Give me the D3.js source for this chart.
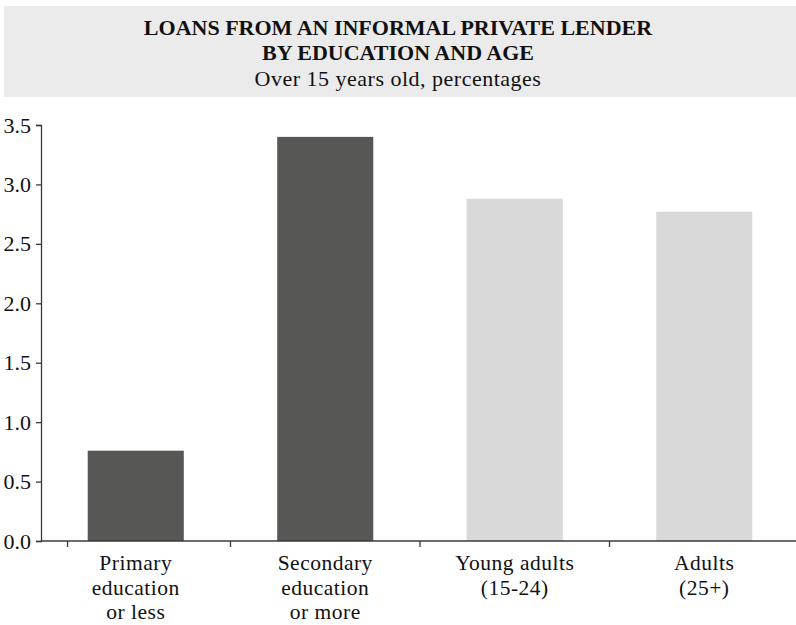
<!DOCTYPE html>
<html>
<head>
<meta charset="utf-8">
<script src="https://cdn.jsdelivr.net/npm/d3@7"></script>
<style>
  html, body { margin: 0; padding: 0; background: #fff; }
  svg { display: block; font-family: "Liberation Serif", "Times New Roman", serif; }
</style>
</head>
<body>
<svg id="chart" width="796" height="625"></svg>
<script>
// Loans from an informal private lender, by education and age (% of people over 15)
const categories = [
  ["Primary", "education", "or less"],
  ["Secondary", "education", "or more"],
  ["Young adults", "(15-24)"],
  ["Adults", "(25+)"]
];
const values = [0.76, 3.40, 2.88, 2.77];
const groups = ["education", "education", "age", "age"];
const yTicks = [0, 0.5, 1.0, 1.5, 2.0, 2.5, 3.0, 3.5];
const titleLines = ["LOANS FROM AN INFORMAL PRIVATE LENDER", "BY EDUCATION AND AGE"];
const subtitle = "Over 15 years old, percentages";

const W = 796, H = 625;
const margin = { top: 125, right: -3, bottom: 84, left: 41 };
const textColor = "#111";
const axisColor = "#3a3a3a";

const svg = d3.select("#chart");

// Header band
svg.append("rect")
  .attr("x", 4).attr("y", 6)
  .attr("width", W - 4).attr("height", 91)
  .attr("fill", "#ebebeb");

svg.append("g").selectAll("text")
  .data(titleLines)
  .join("text")
  .attr("x", W / 2)
  .attr("y", (d, i) => 35 + i * 25)
  .attr("text-anchor", "middle")
  .attr("font-weight", "bold")
  .attr("font-size", 22)
  .attr("fill", textColor)
  .text(d => d);

svg.append("text")
  .attr("x", W / 2).attr("y", 86)
  .attr("text-anchor", "middle")
  .attr("font-size", 22)
  .attr("letter-spacing", 0.5)
  .attr("fill", textColor)
  .text(subtitle);

// Scales
const x = d3.scaleBand()
  .domain(d3.range(categories.length))
  .range([margin.left, W - margin.right])
  .paddingInner(0.493)
  .paddingOuter(0.2465);

const y = d3.scaleLinear()
  .domain([0, 3.5])
  .range([H - margin.bottom, margin.top]);

const color = d3.scaleOrdinal()
  .domain(["education", "age"])
  .range(["#575755", "#d9d9d9"]);

// Bars
svg.append("g").selectAll("rect")
  .data(values)
  .join("rect")
  .attr("x", (d, i) => x(i))
  .attr("y", d => y(d))
  .attr("width", x.bandwidth())
  .attr("height", d => y(0) - y(d))
  .attr("fill", (d, i) => color(groups[i]));

// Y axis
const yAxis = svg.append("g")
  .attr("transform", `translate(${margin.left},0)`)
  .call(d3.axisLeft(y).tickValues(yTicks).tickFormat(d3.format(".1f")).tickSize(5).tickPadding(5));
yAxis.select(".domain").attr("stroke", axisColor).attr("stroke-width", 1.3);
yAxis.selectAll(".tick line").attr("stroke", axisColor).attr("stroke-width", 1.3);
yAxis.selectAll(".tick text")
  .attr("font-family", "Liberation Serif, Times New Roman, serif")
  .attr("font-size", 22).attr("fill", textColor);

// X axis baseline with ticks between category bands
const x0 = x.range()[0], x1 = x.range()[1];
const step = x.step();
const xAxisG = svg.append("g").attr("transform", `translate(0,${y(0)})`);
xAxisG.append("line")
  .attr("x1", x0).attr("x2", x1)
  .attr("stroke", axisColor).attr("stroke-width", 1.3);
const boundaries = [x0 + step * 0.14].concat(d3.range(1, categories.length).map(k => x(k) - step * x.paddingInner() / 2));
xAxisG.selectAll("line.tk")
  .data(boundaries)
  .join("line")
  .attr("class", "tk")
  .attr("x1", d => d).attr("x2", d => d)
  .attr("y1", 0).attr("y2", 6)
  .attr("stroke", axisColor).attr("stroke-width", 1.3);

// Category labels
const labelG = svg.append("g");
categories.forEach((lines, i) => {
  const cx = x(i) + x.bandwidth() / 2;
  const t = labelG.append("text")
    .attr("x", cx)
    .attr("y", y(0) + 29)
    .attr("text-anchor", "middle")
    .attr("font-size", 21.5)
    .attr("letter-spacing", 0.5)
    .attr("fill", textColor);
  lines.forEach((ln, j) => {
    t.append("tspan")
      .attr("x", cx)
      .attr("dy", j === 0 ? 0 : 24.5)
      .text(ln);
  });
});
</script>
</body>
</html>
